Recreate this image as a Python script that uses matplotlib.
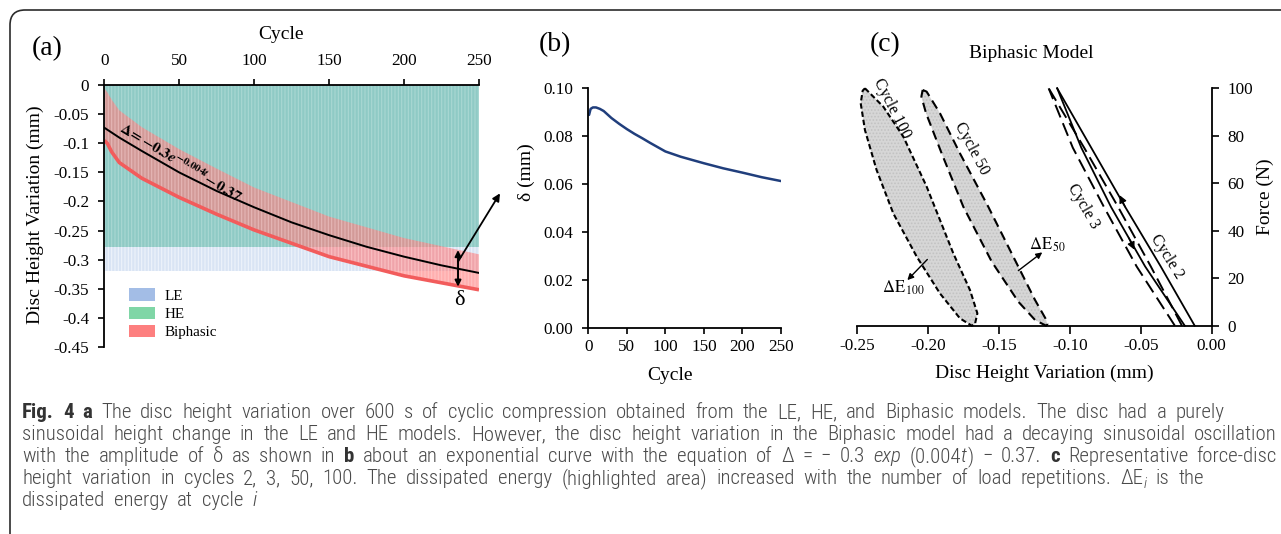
import numpy as np
import matplotlib
matplotlib.use("Agg")
import matplotlib.pyplot as plt
from matplotlib import font_manager
from matplotlib.patches import FancyBboxPatch, Patch
from matplotlib.transforms import IdentityTransform

W, H = 1281, 534
DPI = 100

# ---------------- data : panel (a) ----------------
cycle_span = [0, 250]
le_top, le_bottom = 0.0, -0.320
he_top, he_bottom = 0.0, -0.278
env_cycles = [0, 2, 5, 10, 25, 50, 75, 100, 150, 200, 250]
bi_upper = [-0.005, -0.012, -0.025, -0.043, -0.072, -0.110, -0.1435, -0.176, -0.226, -0.263, -0.291]
bi_lower = [-0.095, -0.100, -0.115, -0.133, -0.160, -0.193, -0.222, -0.249, -0.295, -0.328, -0.352]
fit_cycles = [0, 10, 25, 50, 75, 100, 125, 150, 175, 200, 225, 250]
fit_values = [-0.073, -0.090, -0.113, -0.150, -0.182, -0.210, -0.236, -0.258, -0.278, -0.295, -0.310, -0.323]
a_xticks = [0, 50, 100, 150, 200, 250]
a_yticks = [0, -0.05, -0.1, -0.15, -0.2, -0.25, -0.3, -0.35, -0.4, -0.45]
a_yticklabels = ['0', '-0.05', '-0.1', '-0.15', '-0.2', '-0.25', '-0.3', '-0.35', '-0.4', '-0.45']
legend_labels = ['LE', 'HE', 'Biphasic']
legend_colors = ['#a3bde6', '#7fd6a6', '#fd7f7f']

# ---------------- data : panel (b) ----------------
b_cycles = [1, 3, 6, 10, 15, 20, 30, 40, 50, 60, 70, 80, 100, 120, 150, 175, 200, 225, 250]
b_delta = [0.0887, 0.0912, 0.0918, 0.0918, 0.0912, 0.0903, 0.0874, 0.0850, 0.0828, 0.0808,
           0.0790, 0.0771, 0.0735, 0.0713, 0.0686, 0.0665, 0.0647, 0.0628, 0.0612]
b_xticks = [0, 50, 100, 150, 200, 250]
b_yticks = [0.00, 0.02, 0.04, 0.06, 0.08, 0.10]

# ---------------- data : panel (c) ----------------
c100_right_x = [-0.2446, -0.2317, -0.2175, -0.2011, -0.1823, -0.1705, -0.1653, -0.1670]
c100_right_f = [100.0, 92.3, 79.6, 58.6, 30.5, 15.0, 5.2, 0.7]
c100_left_x = [-0.1693, -0.1776, -0.1917, -0.2081, -0.2246, -0.2364, -0.2446, -0.2476, -0.2462, -0.2446]
c100_left_f = [0.0, 3.1, 13.6, 29.1, 47.3, 65.6, 82.4, 93.7, 99.0, 100.0]
c50_right_x = [-0.2039, -0.2011, -0.1917, -0.1776, -0.1576, -0.1388, -0.1246, -0.1173, -0.1159]
c50_right_f = [99.3, 98.6, 89.5, 72.6, 50.1, 27.7, 10.8, 3.1, 0.7]
c50_left_x = [-0.1169, -0.1246, -0.1364, -0.1552, -0.1752, -0.1905, -0.2015, -0.2048, -0.2039]
c50_left_f = [0.0, 2.4, 10.1, 27.0, 50.1, 72.6, 89.5, 96.5, 99.3]
loop_f = [0, 25, 50, 75, 100]
c2_load = [-0.012, -0.036, -0.061, -0.085, -0.109]
c2_unload = [-0.019, -0.047, -0.071, -0.092, -0.109]
c3_load = [-0.021, -0.043, -0.066, -0.090, -0.115]
c3_unload = [-0.026, -0.053, -0.076, -0.098, -0.115]
c_xticks = [-0.25, -0.20, -0.15, -0.10, -0.05, 0.00]
c_yticks = [0, 20, 40, 60, 80, 100]

# ---------------- style ----------------
plt.rcParams['font.family'] = ['Liberation Serif', 'DejaVu Serif']
plt.rcParams['mathtext.fontset'] = 'stix'
plt.rcParams['hatch.linewidth'] = 0.8

fig = plt.figure(figsize=(W / DPI, H / DPI), dpi=DPI)
fig.patch.set_facecolor('white')


def fx(x):
    return x / W


def fy(y):
    return 1 - y / H


def ftext(x, y, s, **kw):
    return fig.text(fx(x), fy(y), s, **kw)


def axes_px(left, top, right, bottom):
    return fig.add_axes([fx(left), fy(bottom), (right - left) / W, (bottom - top) / H])


TICK_FS = 12.3
LABEL_FS = 14

# ================= panel (a) =================
axA = axes_px(104.3, 85.3, 479.0, 346.7)
axA.fill_between(cycle_span, le_top, le_bottom, facecolor='#d9e4f4', edgecolor='#eef3fb',
                 hatch='|||||', linewidth=0, zorder=1)
axA.fill_between(cycle_span, he_top, he_bottom, facecolor='#8fcac5', edgecolor='#a9d8d3',
                 hatch='|||||', linewidth=0, zorder=2)
axA.fill_between(env_cycles, bi_lower, bi_upper, facecolor='#ff7a7a', alpha=0.6,
                 linewidth=0, zorder=3)
axA.fill_between(env_cycles, bi_lower, bi_upper, facecolor='none', edgecolor=(1, 1, 1, 0.25),
                 hatch='|||||', linewidth=0, zorder=3.5)
axA.plot(env_cycles, bi_lower, color='#f25c5c', lw=2.6, zorder=3.6, solid_capstyle='butt')
axA.plot(fit_cycles, fit_values, color='black', lw=1.4, zorder=5)

axA.set_xlim(0, 250)
axA.set_ylim(-0.45, 0)
axA.xaxis.tick_top()
axA.set_xticks(a_xticks)
axA.set_xticklabels([str(v) for v in a_xticks])
axA.set_yticks(a_yticks)
axA.set_yticklabels(a_yticklabels)
for s in ['bottom', 'right']:
    axA.spines[s].set_visible(False)
for s in ['top', 'left']:
    axA.spines[s].set_linewidth(1.3)
    axA.spines[s].set_zorder(6)
axA.tick_params(axis='x', direction='out', length=4, width=1.2, labelsize=TICK_FS, pad=8)
axA.tick_params(axis='y', direction='out', length=4, width=1.2, labelsize=TICK_FS, pad=7)

handles = [Patch(facecolor=c, edgecolor='none') for c in legend_colors]
axA.legend(handles, legend_labels, loc='lower left', bbox_to_anchor=(0.066, 0.028),
           frameon=False, fontsize=10.8, handlelength=1.75, handleheight=0.9,
           handletextpad=0.6, labelspacing=0.26, borderpad=0, borderaxespad=0)

eq = axA.text(51, -0.133, r'$\mathbf{\Delta\!= -0.3}\mathbfit{e}^{\mathbf{-0.004}\mathbfit{t}}\mathbf{-\,0.37}$',
              fontsize=11, rotation=-31, rotation_mode='anchor', ha='center', va='center', zorder=7)

axA.annotate('', xy=(236, -0.3467), xytext=(236, -0.2836),
             arrowprops=dict(arrowstyle='<|-|>', color='black', lw=1.4, mutation_scale=9,
                             shrinkA=0, shrinkB=0), zorder=8)
axA.text(237, -0.370, 'δ', fontsize=16, ha='center', va='center')
axA.annotate('', xy=(264, -0.186), xytext=(236, -0.3036), annotation_clip=False,
             arrowprops=dict(arrowstyle='-|>', color='black', lw=1.3, mutation_scale=11,
                             shrinkA=0, shrinkB=0), zorder=8)

# ================= panel (b) =================
axB = axes_px(588.3, 87.7, 781.0, 328.3)
axB.plot(b_cycles, b_delta, color='#203e7c', lw=1.8, solid_capstyle='round')
axB.set_xlim(0, 250)
axB.set_ylim(0, 0.10)
axB.set_xticks(b_xticks)
axB.set_xticklabels([str(v) for v in b_xticks])
axB.set_yticks(b_yticks)
axB.set_yticklabels(['%.2f' % v for v in b_yticks])
for s in ['top', 'right']:
    axB.spines[s].set_visible(False)
for s in ['bottom', 'left']:
    axB.spines[s].set_linewidth(1.3)
axB.tick_params(axis='x', direction='out', length=4, width=1.2, labelsize=TICK_FS, pad=3.5)
axB.tick_params(axis='y', direction='out', length=4, width=1.2, labelsize=TICK_FS, pad=7)

# ================= panel (c) =================
axC = axes_px(857.3, 88.3, 1211.7, 325.7)
for rx, rf, lx, lf, dash in [(c100_right_x, c100_right_f, c100_left_x, c100_left_f, (0, (2.6, 1.4))),
                             (c50_right_x, c50_right_f, c50_left_x, c50_left_f, (0, (4.5, 2.6)))]:
    px = list(rx) + list(lx)
    pf = list(rf) + list(lf)
    axC.fill(px, pf, facecolor='#d6d6d6', edgecolor='#c2c2c2', hatch='.....', linewidth=0, zorder=1)
    axC.plot(px + [px[0]], pf + [pf[0]], color='black', lw=1.5, linestyle=dash, zorder=3,
             clip_on=False)

axC.plot(c3_load, loop_f, color='black', lw=1.4, linestyle=(0, (7, 3.2)), zorder=3, clip_on=False)
axC.plot(c3_unload, loop_f, color='black', lw=1.4, linestyle=(0, (7, 3.2)), zorder=3, clip_on=False)
axC.plot(c2_load, loop_f, color='black', lw=1.3, zorder=3, clip_on=False)
axC.plot(c2_unload, loop_f, color='black', lw=1.3, zorder=3, clip_on=False)

# direction arrows
axC.annotate('', xy=(-0.0650, 55.0), xytext=(-0.0610, 50.0),
             arrowprops=dict(arrowstyle='-|>', color='black', lw=1.0, mutation_scale=11,
                             shrinkA=0, shrinkB=0))
axC.annotate('', xy=(-0.0545, 32.0), xytext=(-0.0585, 37.0),
             arrowprops=dict(arrowstyle='-|>', color='black', lw=1.0, mutation_scale=11,
                             shrinkA=0, shrinkB=0))
axC.annotate('', xy=(-0.2147, 19.2), xytext=(-0.2006, 27.9),
             arrowprops=dict(arrowstyle='-|>', color='black', lw=1.0, mutation_scale=9,
                             shrinkA=0, shrinkB=0))
axC.annotate('', xy=(-0.1195, 30.9), xytext=(-0.1364, 23.2),
             arrowprops=dict(arrowstyle='-|>', color='black', lw=1.0, mutation_scale=9,
                             shrinkA=0, shrinkB=0))
axC.text(-0.2325, 13.8, r'$\Delta\mathrm{E}_{\,100}$', fontsize=12, ha='left', va='baseline')
axC.text(-0.1290, 32.0, r'$\Delta\mathrm{E}_{\,50}$', fontsize=12, ha='left', va='baseline')

axC.text(-0.2258, 91.5, 'Cycle 100', fontsize=11.5, rotation=-63, ha='center', va='center',
         rotation_mode='anchor')
axC.text(-0.1693, 74.7, 'Cycle 50', fontsize=11.5, rotation=-62, ha='center', va='center',
         rotation_mode='anchor')
axC.text(-0.0906, 50.1, 'Cycle 3', fontsize=11.5, rotation=-60, ha='center', va='center',
         rotation_mode='anchor')
axC.text(-0.0317, 29.1, 'Cycle 2', fontsize=11.5, rotation=-58, ha='center', va='center',
         rotation_mode='anchor')

axC.set_xlim(-0.25, 0.0)
axC.set_ylim(0, 100)
axC.set_xticks(c_xticks)
axC.set_xticklabels(['%.2f' % v for v in c_xticks])
axC.set_yticks(c_yticks)
axC.set_yticklabels([str(v) for v in c_yticks])
axC.yaxis.tick_right()
for s in ['top', 'left']:
    axC.spines[s].set_visible(False)
for s in ['bottom', 'right']:
    axC.spines[s].set_linewidth(1.3)
axC.tick_params(axis='x', direction='out', length=5.5, width=1.2, labelsize=TICK_FS, pad=3.5)
axC.tick_params(axis='y', direction='out', length=5, width=1.2, labelsize=TICK_FS, pad=6.5)

# ================= figure texts =================
ftext(46.7, 48.3, '(a)', fontsize=20, ha='center', va='center')
ftext(555, 45, '(b)', fontsize=20, ha='center', va='center')
ftext(885, 45, '(c)', fontsize=20, ha='center', va='center')
ftext(280.7, 34.3, 'Cycle', fontsize=LABEL_FS, ha='center', va='center')
ftext(35.5, 215, 'Disc Height Variation (mm)', fontsize=LABEL_FS, rotation=90, ha='center', va='center')
ftext(526, 172, 'δ (mm)', fontsize=LABEL_FS, rotation=90, ha='center', va='center')
ftext(670, 375, 'Cycle', fontsize=LABEL_FS, ha='center', va='center')
ftext(1031, 53, 'Biphasic Model', fontsize=LABEL_FS, ha='center', va='center')
ftext(1044, 373, 'Disc Height Variation (mm)', fontsize=LABEL_FS, ha='center', va='center')
ftext(1265, 197, 'Force (N)', fontsize=LABEL_FS, rotation=90, ha='center', va='center')

# rounded frame (clipped at right and bottom edges)
frame = FancyBboxPatch((10, -40), 1340, (H - 10) + 40, boxstyle='round,pad=0,rounding_size=15',
                       transform=IdentityTransform(), facecolor='none', edgecolor='#2b2b2b',
                       linewidth=1.2)
fig.add_artist(frame)

# ================= caption =================
def has_font(name):
    try:
        font_manager.findfont(font_manager.FontProperties(family=name), fallback_to_default=False)
        return True
    except Exception:
        return False


cap_family = 'DejaVu Sans'
for cand in ['Liberation Sans Narrow', 'Roboto Condensed', 'Open Sans Condensed', 'Noto Sans', 'Liberation Sans']:
    if has_font(cand):
        cap_family = cand
        break
cap_families = [cap_family, 'DejaVu Sans']

caption = [
    [("Fig. 4 a", 'b'), (" The disc height variation over 600 s of cyclic compression obtained from the LE, HE, and Biphasic models. The disc had a purely", 'n')],
    [("sinusoidal height change in the LE and HE models. However, the disc height variation in the Biphasic model had a decaying sinusoidal oscillation", 'n')],
    [("with the amplitude of δ as shown in ", 'n'), ("b", 'b'), (" about an exponential curve with the equation of Δ = − 0.3 ", 'n'),
     ("exp", 'i'), (" (0.004", 'n'), ("t", 'i'), (") − 0.37. ", 'n'), ("c", 'b'), (" Representative force-disc", 'n')],
    [("height variation in cycles 2, 3, 50, 100. The dissipated energy (highlighted area) increased with the number of load repetitions. ΔE", 'n'),
     ("i", 'sub'), (" is the", 'n')],
    [("dissipated energy at cycle ", 'n'), ("i", 'i')],
]
cap_baselines = [418, 440, 462, 484, 506]
CAP_COLOR = '#4a4a4a'
CAP_BOLD_COLOR = '#333333'
CAP_FS_MAX = 15.0
CAP_RIGHT = 1277.0

renderer = fig.canvas.get_renderer()


def props(kind, fs):
    d = dict(fontsize=fs, family=cap_families, color=CAP_COLOR, weight='light', style='normal')
    if kind == 'b':
        d['weight'] = 'bold'
        d['color'] = CAP_BOLD_COLOR
    if kind in ('i', 'sub'):
        d['style'] = 'italic'
    if kind == 'sub':
        d['fontsize'] = fs * 0.72
    return d


_wcache = {}


def twidth(s, kind, fs):
    key = (s, kind, fs)
    if key in _wcache:
        return _wcache[key]
    t = fig.text(0, 0, '|' + s + '|', **props(kind, fs))
    w1 = t.get_window_extent(renderer).width
    t.set_text('||')
    w2 = t.get_window_extent(renderer).width
    t.remove()
    _wcache[key] = w1 - w2
    return w1 - w2


def tokenize(runs):
    toks = []
    pending = False
    for s, kind in runs:
        parts = s.split(' ')
        for j, p in enumerate(parts):
            if j > 0:
                pending = True
            if p:
                toks.append((p, kind, pending))
                pending = False
    return toks


def natural(toks, fs):
    sp = twidth(' ', 'n', fs)
    words = sum(twidth(p, k, fs) for p, k, _ in toks)
    gaps = sum(1 for t in toks if t[2])
    return words + gaps * sp, gaps


tok2 = tokenize(caption[1])
nat10, _ = natural(tok2, 10.0)
CAP_FS = min(CAP_FS_MAX, 10.0 * (CAP_RIGHT - 22.0) / nat10)
space_w = twidth(' ', 'n', CAP_FS)
nat2, gaps2 = natural(tok2, CAP_FS)
extra_gap = max(0.0, (CAP_RIGHT - 22.0 - nat2) / max(gaps2, 1))

for runs, base in zip(caption, cap_baselines):
    toks = tokenize(runs)
    nat, gaps = natural(toks, CAP_FS)
    eg = extra_gap
    if 22.0 + nat + gaps * eg > CAP_RIGHT:
        eg = max(0.0, (CAP_RIGHT - 22.0 - nat) / max(gaps, 1))
    x = 22.0
    for p, kind, sp_before in toks:
        if sp_before:
            x += space_w + eg
        yb = base + (3.5 if kind == 'sub' else 0)
        ftext(x, yb, p, ha='left', va='baseline', **props(kind, CAP_FS))
        x += twidth(p, kind, CAP_FS)

# fallback if bold-italic mathtext is unsupported
try:
    fig.canvas.draw()
except Exception:
    eq.set_text(r'$\mathbf{\Delta\!= -0.3}e^{\mathbf{-0.004}t}\mathbf{-\,0.37}$')

fig.savefig('out.png', dpi=DPI)
